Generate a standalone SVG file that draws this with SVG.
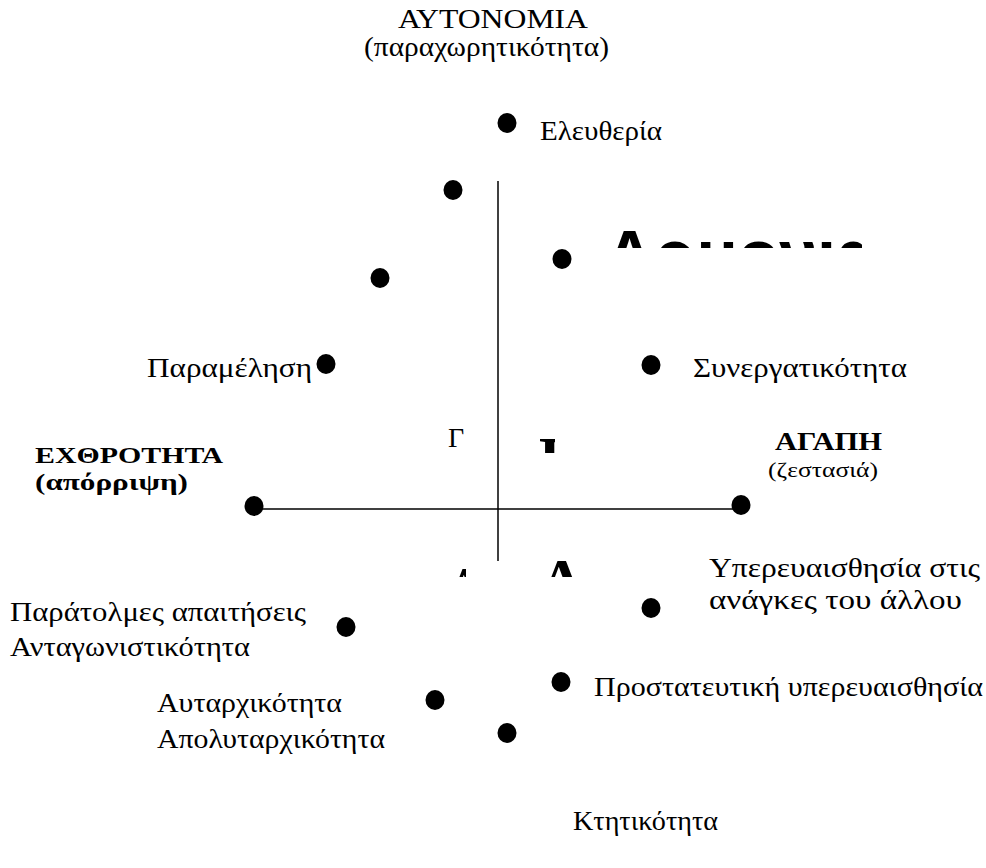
<svg xmlns="http://www.w3.org/2000/svg" width="986" height="868" viewBox="0 0 986 868">
<style>
.t{font-family:"Liberation Serif","Times New Roman","DejaVu Serif",serif;font-size:28px;fill:#000}
.b{font-family:"Liberation Serif","Times New Roman","DejaVu Serif",serif;font-size:25px;font-weight:bold;fill:#000}
.s{font-family:"Liberation Serif","Times New Roman","DejaVu Serif",serif;font-size:21px;fill:#000}
.big{font-family:"Liberation Sans",Arial,sans-serif;font-weight:bold;fill:#000}
.dot{fill:#000}
.ax{stroke:#000;stroke-width:1.5;fill:none}
</style>
<defs>
<clipPath id="c1"><rect x="600" y="200" width="262" height="48"/></clipPath>
<clipPath id="c2"><rect x="530" y="430" width="25" height="23"/></clipPath>
<clipPath id="c3"><rect x="430" y="550" width="36" height="27"/></clipPath>
<clipPath id="c4"><rect x="530" y="550" width="50" height="27"/></clipPath>
</defs>
<rect width="986" height="868" fill="#fff"/>
<g id="connectors">
<line class="ax" x1="498" y1="181" x2="498" y2="561"/>
<line class="ax" x1="256" y1="509" x2="741" y2="509"/>
</g>
<g id="autonomy">
<text class="t" x="398" y="28" textLength="190" lengthAdjust="spacingAndGlyphs">ΑΥΤΟΝΟΜΙΑ</text>
<text class="t" x="364" y="56" textLength="245" lengthAdjust="spacingAndGlyphs">(παραχωρητικότητα)</text>
</g>
<g id="eleftheria">
<ellipse class="dot" cx="507" cy="123" rx="9.5" ry="10"/>
<text class="t" x="540" y="140" textLength="122" lengthAdjust="spacingAndGlyphs">Ελευθερία</text>
</g>
<g id="p1"><ellipse class="dot" cx="453" cy="190" rx="9.5" ry="10"/></g>
<g id="p2"><ellipse class="dot" cx="380" cy="278" rx="9.5" ry="10"/></g>
<g id="p3"><ellipse class="dot" cx="562" cy="259" rx="9.5" ry="10"/></g>
<g id="harmony-label">
<text class="big" style="font-size:68px" x="605" y="278" clip-path="url(#c1)">Αρμονια</text>
</g>
<g id="paramelisi">
<ellipse class="dot" cx="326" cy="364" rx="9.5" ry="10"/>
<text class="t" x="147" y="377" textLength="165" lengthAdjust="spacingAndGlyphs">Παραμέληση</text>
</g>
<g id="synergatikotita">
<ellipse class="dot" cx="651" cy="365" rx="9.5" ry="10"/>
<text class="t" x="693" y="377" textLength="214" lengthAdjust="spacingAndGlyphs">Συνεργατικότητα</text>
</g>
<g id="quadrant-labels">
<text class="t" style="font-size:28px" x="448" y="447">Γ</text>
<text class="b" style="font-size:60px" x="539" y="478" clip-path="url(#c2)">Β</text>
<text class="b" style="font-size:60px" x="445" y="608" clip-path="url(#c3)">Α</text>
<text class="b" style="font-size:60px" x="540" y="600" clip-path="url(#c4)">Α</text>
</g>
<g id="echthrotita">
<ellipse class="dot" cx="254" cy="506" rx="9.5" ry="10"/>
<text class="b" style="font-size:24px" x="35" y="463" textLength="188" lengthAdjust="spacingAndGlyphs">ΕΧΘΡΟΤΗΤΑ</text>
<text class="b" style="font-size:24px" x="35" y="490" textLength="153" lengthAdjust="spacingAndGlyphs">(απόρριψη)</text>
</g>
<g id="agapi">
<ellipse class="dot" cx="741" cy="505" rx="9.5" ry="10"/>
<text class="b" x="775" y="450" textLength="107" lengthAdjust="spacingAndGlyphs">ΑΓΑΠΗ</text>
<text class="s" x="768" y="477" textLength="110" lengthAdjust="spacingAndGlyphs">(ζεστασιά)</text>
</g>
<g id="yperevaisthisia">
<ellipse class="dot" cx="651" cy="608" rx="9.5" ry="10"/>
<text class="t" x="709" y="577" textLength="271" lengthAdjust="spacingAndGlyphs">Υπερευαισθησία στις</text>
<text class="t" x="709" y="609" textLength="253" lengthAdjust="spacingAndGlyphs">ανάγκες του άλλου</text>
</g>
<g id="paratolmes">
<ellipse class="dot" cx="346" cy="627" rx="9.5" ry="10"/>
<text class="t" x="10" y="621" textLength="296" lengthAdjust="spacingAndGlyphs">Παράτολμες απαιτήσεις</text>
<text class="t" x="10" y="656" textLength="240" lengthAdjust="spacingAndGlyphs">Ανταγωνιστικότητα</text>
</g>
<g id="prostateftiki">
<ellipse class="dot" cx="561" cy="682" rx="9.5" ry="10"/>
<text class="t" x="594" y="696" textLength="389" lengthAdjust="spacingAndGlyphs">Προστατευτική υπερευαισθησία</text>
</g>
<g id="autarchikotita">
<ellipse class="dot" cx="435" cy="700" rx="9.5" ry="10"/>
<text class="t" x="157" y="712" textLength="185" lengthAdjust="spacingAndGlyphs">Αυταρχικότητα</text>
<text class="t" x="157" y="748" textLength="228" lengthAdjust="spacingAndGlyphs">Απολυταρχικότητα</text>
</g>
<g id="ktitikotita">
<ellipse class="dot" cx="507" cy="733" rx="9.5" ry="10"/>
<text class="t" x="573" y="830" textLength="145" lengthAdjust="spacingAndGlyphs">Κτητικότητα</text>
</g>
</svg>
